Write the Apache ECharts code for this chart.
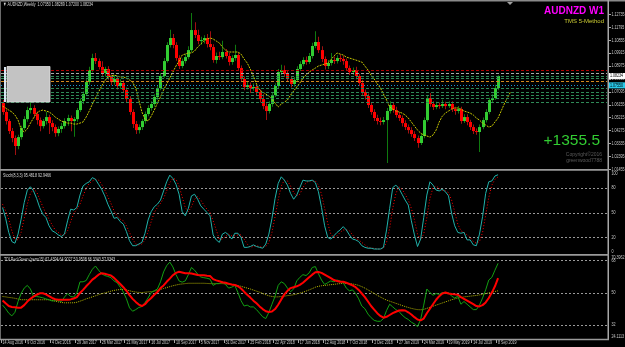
<!DOCTYPE html>
<html><head><meta charset="utf-8">
<script src="https://cdn.jsdelivr.net/npm/echarts@6/dist/echarts.min.js"></script>
<style>html,body{margin:0;padding:0;background:#000;}#c{width:625px;height:347px;}</style>
</head><body><div id="c"></div>
<script>
// ---------- DATA ----------
const dateTicks = ['14 Aug 2016','9 Oct 2016','4 Dec 2016','29 Jan 2017','26 Mar 2017','21 May 2017','16 Jul 2017','10 Sep 2017','5 Nov 2017','31 Dec 2017','25 Feb 2018','22 Apr 2018','17 Jun 2018','12 Aug 2018','7 Oct 2018','2 Dec 2018','27 Jan 2019','24 Mar 2019','19 May 2019','14 Jul 2019','8 Sep 2019'];
const priceTicks = [1.01455,1.02395,1.03335,1.04275,1.05215,1.06155,1.07095,1.08035,1.08975,1.09915,1.10855,1.11795,1.12735];
const stochLevels = [80,50,20];
const stochEdges = [100,0];
const tdiLevels = [68,50,32];
const tdiEdgeLabels = [70.3962,24.1113];
const lastPrice = 1.08234;

const opens = [1.0626,1.0561,1.0495,1.0422,1.0371,1.0313,1.0378,1.0444,1.0509,1.0575,
1.0590,1.0546,1.0502,1.0458,1.0495,1.0524,1.0480,1.0451,1.0407,1.0437,
1.0458,1.0495,1.0517,1.0495,1.0509,1.0575,1.0641,1.0692,1.0779,1.0867,
1.0954,1.0932,1.0889,1.0845,1.0874,1.0816,1.0779,1.0801,1.0750,1.0772,
1.0721,1.0655,1.0561,1.0473,1.0429,1.0451,1.0495,1.0546,1.0590,1.0619,
1.0670,1.0735,1.0823,1.0932,1.1049,1.1100,1.1049,1.0954,1.0896,1.0932,
1.0961,1.1012,1.1158,1.1122,1.1078,1.1085,1.1100,1.1056,1.1034,1.0940,
1.0969,1.0961,1.0998,1.0969,1.0925,1.0954,1.0976,1.0881,1.0801,1.0743,
1.0757,1.0735,1.0743,1.0706,1.0655,1.0604,1.0568,1.0619,1.0684,1.0750,
1.0852,1.0867,1.0838,1.0801,1.0765,1.0794,1.0874,1.0910,1.0940,1.0925,
1.0969,1.1042,1.1071,1.1012,1.0947,1.0896,1.0918,1.0940,1.0932,1.0954,
1.0947,1.0932,1.0881,1.0852,1.0867,1.0823,1.0772,1.0706,1.0677,1.0612,
1.0561,1.0517,1.0495,1.0488,1.0502,1.0568,1.0612,1.0575,1.0539,1.0517,
1.0480,1.0451,1.0429,1.0400,1.0371,1.0335,1.0386,1.0502,1.0663,1.0619,
1.0597,1.0612,1.0604,1.0619,1.0604,1.0619,1.0582,1.0568,1.0582,1.0495,
1.0524,1.0488,1.0451,1.0422,1.0415,1.0451,1.0502,1.0561,1.0648,1.0663,
1.0735];
const closes = [1.0561,1.0495,1.0422,1.0371,1.0313,1.0378,1.0444,1.0509,1.0575,1.0590,
1.0546,1.0502,1.0458,1.0495,1.0524,1.0480,1.0451,1.0407,1.0437,1.0458,
1.0495,1.0517,1.0495,1.0509,1.0575,1.0641,1.0692,1.0779,1.0867,1.0954,
1.0932,1.0889,1.0845,1.0874,1.0816,1.0779,1.0801,1.0750,1.0772,1.0721,
1.0655,1.0561,1.0473,1.0429,1.0451,1.0495,1.0546,1.0590,1.0619,1.0670,
1.0735,1.0823,1.0932,1.1049,1.1100,1.1049,1.0954,1.0896,1.0932,1.0961,
1.1012,1.1158,1.1122,1.1078,1.1085,1.1100,1.1056,1.1034,1.0940,1.0969,
1.0961,1.0998,1.0969,1.0925,1.0954,1.0976,1.0881,1.0801,1.0743,1.0757,
1.0735,1.0743,1.0706,1.0655,1.0604,1.0568,1.0619,1.0684,1.0750,1.0852,
1.0867,1.0838,1.0801,1.0765,1.0794,1.0874,1.0910,1.0940,1.0925,1.0969,
1.1042,1.1071,1.1012,1.0947,1.0896,1.0918,1.0940,1.0932,1.0954,1.0947,
1.0932,1.0881,1.0852,1.0867,1.0823,1.0772,1.0706,1.0677,1.0612,1.0561,
1.0517,1.0495,1.0488,1.0502,1.0568,1.0612,1.0575,1.0539,1.0517,1.0480,
1.0451,1.0429,1.0400,1.0371,1.0335,1.0386,1.0502,1.0663,1.0619,1.0597,
1.0612,1.0604,1.0619,1.0604,1.0619,1.0582,1.0568,1.0582,1.0495,1.0524,
1.0488,1.0451,1.0422,1.0415,1.0451,1.0502,1.0561,1.0648,1.0663,1.0735,
1.0823];
const highs = [1.0648,1.0580,1.0510,1.0445,1.0390,1.0395,1.0460,1.0530,1.0600,1.0640,
1.0610,1.0565,1.0520,1.0510,1.0560,1.0540,1.0500,1.0470,1.0455,1.0480,
1.0515,1.0540,1.0535,1.0525,1.0590,1.0660,1.0710,1.0800,1.0890,1.0985,
1.0990,1.0950,1.0930,1.0890,1.0895,1.0835,1.0830,1.0820,1.0800,1.0790,
1.0740,1.0675,1.0580,1.0495,1.0470,1.0510,1.0565,1.0610,1.0640,1.0690,
1.0755,1.0845,1.0955,1.1070,1.1160,1.1130,1.1070,1.0975,1.0950,1.0985,
1.1040,1.1282,1.1215,1.1160,1.1110,1.1120,1.1130,1.1150,1.1055,1.0995,
1.1000,1.1080,1.1020,1.0990,1.0975,1.1050,1.0995,1.0900,1.0820,1.0780,
1.0775,1.0770,1.0760,1.0725,1.0690,1.0625,1.0640,1.0705,1.0770,1.0875,
1.0905,1.0900,1.0860,1.0820,1.0815,1.0895,1.0930,1.0960,1.0965,1.0990,
1.1065,1.1150,1.1110,1.1040,1.0965,1.0940,1.0990,1.0965,1.0975,1.0980,
1.0970,1.0950,1.0900,1.0885,1.0890,1.0840,1.0795,1.0725,1.0695,1.0630,
1.0580,1.0540,1.0520,1.0525,1.0590,1.0640,1.0630,1.0600,1.0560,1.0535,
1.0500,1.0470,1.0450,1.0420,1.0390,1.0405,1.0520,1.0685,1.0700,1.0640,
1.0635,1.0630,1.0650,1.0635,1.0640,1.0640,1.0600,1.0605,1.0600,1.0545,
1.0545,1.0505,1.0470,1.0440,1.0470,1.0520,1.0580,1.0665,1.0690,1.0760,
1.0829];
const lows = [1.0540,1.0470,1.0400,1.0340,1.0247,1.0290,1.0360,1.0430,1.0490,1.0550,
1.0520,1.0470,1.0420,1.0440,1.0470,1.0400,1.0420,1.0380,1.0385,1.0410,
1.0440,1.0460,1.0420,1.0380,1.0490,1.0560,1.0620,1.0680,1.0760,1.0850,
1.0910,1.0870,1.0825,1.0820,1.0795,1.0755,1.0760,1.0725,1.0730,1.0700,
1.0630,1.0540,1.0445,1.0400,1.0405,1.0430,1.0475,1.0530,1.0570,1.0600,
1.0650,1.0720,1.0810,1.0920,1.1030,1.1025,1.0935,1.0875,1.0880,1.0915,
1.0945,1.0995,1.1100,1.1055,1.1050,1.1060,1.1030,1.1010,1.0920,1.0915,
1.0940,1.0945,1.0950,1.0900,1.0905,1.0935,1.0860,1.0780,1.0720,1.0725,
1.0700,1.0715,1.0685,1.0630,1.0580,1.0502,1.0550,1.0600,1.0670,1.0735,
1.0830,1.0815,1.0780,1.0740,1.0745,1.0780,1.0860,1.0895,1.0905,1.0910,
1.0950,1.1025,1.0990,1.0925,1.0870,1.0875,1.0900,1.0910,1.0915,1.0925,
1.0905,1.0860,1.0830,1.0830,1.0800,1.0750,1.0685,1.0650,1.0590,1.0540,
1.0495,1.0470,1.0465,1.0470,1.0189,1.0550,1.0555,1.0520,1.0495,1.0455,
1.0430,1.0405,1.0380,1.0350,1.0300,1.0320,1.0370,1.0490,1.0600,1.0575,
1.0580,1.0585,1.0590,1.0580,1.0590,1.0560,1.0540,1.0550,1.0475,1.0480,
1.0465,1.0430,1.0400,1.0395,1.0269,1.0435,1.0485,1.0545,1.0630,1.0650,
1.0720];
const maLine = [1.0604,1.0590,1.0575,1.0561,1.0539,1.0502,1.0437,1.0415,1.0437,1.0480,
1.0517,1.0553,1.0568,1.0575,1.0568,1.0561,1.0546,1.0524,1.0509,1.0495,
1.0488,1.0480,1.0480,1.0473,1.0473,1.0480,1.0488,1.0524,1.0568,1.0619,
1.0663,1.0706,1.0750,1.0787,1.0816,1.0823,1.0830,1.0823,1.0816,1.0816,
1.0808,1.0794,1.0779,1.0735,1.0648,1.0561,1.0509,1.0495,1.0531,1.0575,
1.0626,1.0670,1.0721,1.0765,1.0808,1.0852,1.0896,1.0932,1.0976,1.0983,
1.0991,1.0991,1.1005,1.1034,1.1056,1.1078,1.1093,1.1100,1.1093,1.1078,
1.1064,1.1034,1.1012,1.0998,1.0998,1.0998,1.0998,1.0983,1.0947,1.0918,
1.0874,1.0823,1.0765,1.0721,1.0706,1.0692,1.0677,1.0655,1.0626,1.0597,
1.0619,1.0633,1.0648,1.0684,1.0714,1.0743,1.0772,1.0808,1.0830,1.0852,
1.0867,1.0881,1.0896,1.0903,1.0910,1.0918,1.0940,1.0969,1.0991,1.0983,
1.0976,1.0961,1.0954,1.0947,1.0940,1.0932,1.0925,1.0896,1.0867,1.0830,
1.0801,1.0765,1.0736,1.0692,1.0648,1.0597,1.0582,1.0568,1.0561,1.0553,
1.0539,1.0517,1.0488,1.0458,1.0429,1.0407,1.0393,1.0386,1.0378,1.0393,
1.0429,1.0488,1.0531,1.0553,1.0568,1.0582,1.0590,1.0590,1.0582,1.0568,
1.0561,1.0553,1.0539,1.0517,1.0502,1.0480,1.0466,1.0451,1.0458,1.0488,
1.0517,1.0568,1.0619,1.0663,1.0706];
const levelPrices = [1.0867,1.0843,1.0823,1.0805,1.0787,1.0755,1.0734,1.0709,1.0685,1.0663,1.0637];
const levelColors = ['#B00000','#A8A8A8','#2E8B57','#2E8B57','#D2881E','#1E90C8','#2E8B57','#2E8B57','#2E8B57','#2E8B57','#2E8B57'];

const stochMain = [56,43,26,15,13,24,42,62,77,81,
76,67,56,48,44,34,28,26,23,21,
24,40,54,53,56,71,82,85,87,92,
90,84,78,70,60,52,43,44,39,36,
27,16,10,10,12,14,25,41,51,57,
60,65,76,87,95,91,84,72,51,46,
55,70,72,66,58,54,50,46,23,17,
14,24,26,23,18,25,25,20,8,8,
9,11,9,8,7,12,24,43,67,85,
93,89,83,73,66,71,80,89,88,88,
89,86,75,56,34,20,18,22,26,29,
33,29,23,18,17,15,10,8,7,7,
6,6,6,8,29,55,80,83,79,72,
65,59,40,23,9,18,44,71,87,83,
77,76,78,75,70,49,34,26,25,26,
17,17,11,10,24,45,73,87,88,94,
95.5];
const stochSignal = [60,52,42,28,18,17,26,43,60,73,
78,75,66,57,49,42,35,29,26,23,
23,28,39,49,54,60,70,79,85,88,
90,89,84,77,69,61,52,46,42,40,
34,26,18,12,11,12,17,27,39,50,
56,61,67,76,86,91,90,82,69,56,
51,57,66,69,65,59,54,50,40,29,
18,18,21,24,22,22,23,23,18,12,
8,9,10,9,8,9,14,26,45,65,
82,89,88,82,74,70,72,80,86,88,
88,88,83,72,55,37,24,20,22,26,
29,29,28,23,19,17,14,11,8,7,
7,6,6,7,14,31,55,73,81,78,
72,65,55,41,24,17,24,44,67,80,
82,79,77,76,74,65,51,36,28,26,
23,20,15,13,15,26,47,68,83,90,
92.9];
const tdiGreen = [43,41,38.5,37,39,45,49.5,52.5,54,52,
47.8,47.8,47.5,47.1,46.5,46,45.3,45.5,45.5,45,
47.5,49.5,47.8,47.5,49.8,56,56,56.7,60,63,
64.8,62.5,60.5,59.5,59,58.3,56.5,55.5,53,50.3,
46.5,41.5,39.6,40.5,41.7,42.2,44.5,47,50,51,
52,56,61.5,65,67,64.3,60,56.5,55.8,56.5,
60,64,62.5,60.3,58.7,58.3,58,57.5,54,55,
55,56,54.5,52.5,53,54,50,45.5,42.5,43,
42,42,40.5,38.5,36.5,35.5,39,43.5,48,54,
56,55,52.5,50.5,52,56.5,58.5,60,59.5,61,
64,64.5,60.5,57,54.5,55.5,56.5,56,57,56.5,
55.5,52.5,51,51.5,49.5,46.5,42.5,41,38,36,
34.5,34,34,35.5,40,43.5,42,40.5,39.5,37.5,
36,35,33.5,32.5,31,35,43,52,50,48.5,
49.5,49,50,49.5,50,48,47,48,43.5,45,
43.5,42,40.5,40.5,43,47,51.5,57,58.5,62.5,
66.3];
const tdiRed = [45.6,44,42.5,42,41.8,41.6,41.6,43,45,46.5,
47.8,48.8,49.6,49.6,49,48,47,46.3,46,46,
46,46,46.2,46.7,47.5,49.8,51.5,53.5,55.3,57.2,
58.5,60,60.8,60.5,60,59.5,58.2,56.5,54.8,53,
51,48.6,46.5,44.8,43.3,42.5,43.5,45.5,47,48.8,
50.3,52.5,54,56,57.8,59.7,61,61.6,61.2,60.8,
60.8,60.6,60.2,59.8,59.7,59.7,59.4,59.2,57.5,56.8,
56.3,55.8,55.5,55,54.5,54.2,53.5,52.3,50.5,48.8,
47.2,45.5,44,42.3,40.8,39.6,39.2,39.4,40.8,43.2,
46.2,49,51,52.5,53,53.5,54.3,55.5,57,58.5,
60,61.3,61.5,61,60,59,58,57,56.5,56,
56,55.5,54.8,54,53,51.5,49.5,47.5,45,42.5,
40.5,38.5,37,36,36.5,37.5,38.5,39.3,40,40.2,
40,39,37.8,36.3,35,34.5,35.5,38.5,41,43.5,
46,48,49.5,50,49.5,49.2,49,48.8,47.5,46.5,
45.5,44.5,43.5,42.5,42.3,43,44.5,47,50,53.5,
58];
const tdiYellow = [47.8,47.6,47.3,47.1,46.8,46.4,46,46,46,46,
46,46,46,46,46,46,45.7,45.2,44.8,44.5,
44.3,44.3,44.3,44.3,44.6,45.2,45.8,46.5,47,47.6,
48.2,48.8,49.4,49.8,50.3,50.8,51.2,51.5,51.7,51.8,
51.5,51,50.6,50.3,50.1,50,50.2,50.4,50.5,50.8,
51.3,51.8,52.3,52.8,53.3,53.8,54.2,54.6,54.8,55,
55.2,55.2,55.2,55.2,55.2,55.2,55.1,55,55,55,
55,55,54.8,54.6,54.4,54.2,53.9,53.5,53,52.5,
52,51.4,50.8,50.2,49.5,48.8,48.2,47.8,47.6,47.6,
47.8,48,48.3,48.5,48.8,49.2,49.7,50.2,50.8,51.5,
52.2,53,53.5,53.8,54,54.2,54.4,54.6,54.8,55,
55.1,55.1,55,54.8,54.5,54,53.3,52.5,51.5,50.5,
49.5,48.5,47.5,46.6,45.8,45.2,44.6,44,43.4,42.8,
42.2,41.7,41.2,40.8,40.5,40.4,40.6,41.2,41.8,42.4,
43,43.6,44.2,44.8,45.4,46,46.5,47,47.3,47.6,
47.8,48,48.2,48.4,48.7,49,49.4,49.8,50.2,50.6,
51];

const mainTitle = '\u25BC AUDNZD,Weekly  1.07350 1.08289 1.07200 1.08234';
const stochTitle = 'Stoch(8,3,3) 95.4818 92.9466';
const tdiTitle = 'TDI Red Green (perm15) 62.4394 64.9027 50.9508 66.3343 57.9343';
const bigTitle = 'AUDNZD W1';
const subTitle = 'TMS 5-Method';
const pipsText = '+1355.5';
const copyText = ['Copyright\u00A92016', 'greenwood7788'];

// ---------- CHART ----------
const SLOTS = 196;
const cats = [];
for (let i = 0; i < SLOTS; i++) cats.push(i);
const FONT = 'Liberation Sans, Arial, sans-serif';
const LBL = '#C8C8C8';
const SX = 0.66;

const chart = echarts.init(document.getElementById('c'), null, {renderer: 'canvas'});

function xa(idx) {
  return {type: 'category', gridIndex: idx, data: cats, boundaryGap: true,
    axisLine: {show: false}, axisTick: {show: false}, splitLine: {show: false}, axisLabel: {show: false}};
}
function ya(idx, min, max) {
  return {type: 'value', gridIndex: idx, min: min, max: max, position: 'right',
    axisLine: {show: false}, axisTick: {show: false}, splitLine: {show: false}, axisLabel: {show: false}};
}
const candleData = closes.map((c, i) => [i, opens[i], c, lows[i], highs[i]]);

const option = {
  backgroundColor: '#000000',
  animation: false,
  grid: [
    {left: 1, right: 17, top: 2, height: 167},
    {left: 1, right: 17, top: 171, height: 83},
    {left: 1, right: 17, top: 256, height: 83}
  ],
  xAxis: [xa(0), xa(1), xa(2)],
  yAxis: [ya(0, 1.01455, 1.13624), ya(1, 0, 100), ya(2, tdiEdgeLabels[1], tdiEdgeLabels[0])],
  series: [
    {
      type: 'custom', xAxisIndex: 0, yAxisIndex: 0, data: candleData, z: 2, silent: true,
      encode: {x: 0, y: [1, 2, 3, 4]},
      renderItem: function (params, api) {
        const i = api.value(0), o = api.value(1), c = api.value(2), l = api.value(3), h = api.value(4);
        const po = api.coord([i, o]), pc = api.coord([i, c]), pl = api.coord([i, l]), ph = api.coord([i, h]);
        const up = c >= o;
        const cx = Math.round(po[0]);
        const top = Math.min(po[1], pc[1]);
        const hh = Math.max(1, Math.abs(po[1] - pc[1]));
        return {type: 'group', children: [
          {type: 'rect', shape: {x: cx, y: ph[1], width: 1, height: pl[1] - ph[1]}, style: {fill: up ? '#0F7A0F' : '#A01010'}},
          {type: 'rect', shape: {x: cx - 1, y: top, width: 3, height: hh}, style: {fill: up ? '#32CD32' : '#FF0000'}}
        ]};
      }
    },
    {type: 'line', xAxisIndex: 0, yAxisIndex: 0, data: maLine, z: 3, silent: true,
      showSymbol: false, lineStyle: {color: '#C8C800', width: 1, type: [2, 1]}},
    {type: 'line', xAxisIndex: 1, yAxisIndex: 1, data: stochSignal, z: 2, silent: true,
      showSymbol: false, lineStyle: {color: '#FF0000', width: 1, type: [1, 2]}},
    {type: 'line', xAxisIndex: 1, yAxisIndex: 1, data: stochMain, z: 3, silent: true,
      showSymbol: false, lineStyle: {color: '#20B2AA', width: 1}},
    {type: 'line', xAxisIndex: 2, yAxisIndex: 2, data: tdiYellow, z: 2, silent: true,
      showSymbol: false, lineStyle: {color: '#B8B800', width: 1, type: [1, 1]}},
    {type: 'line', xAxisIndex: 2, yAxisIndex: 2, data: tdiGreen, z: 3, silent: true,
      showSymbol: false, lineStyle: {color: '#12A012', width: 1}},
    {type: 'line', xAxisIndex: 2, yAxisIndex: 2, data: tdiRed, z: 4, silent: true,
      showSymbol: false, lineStyle: {color: '#FF0000', width: 2}}
  ]
};
chart.setOption(option);

// ---------- overlays placed through the chart's own scales ----------
const yPx = (ax, v) => chart.convertToPixel({yAxisIndex: ax}, v);
const xPx = i => chart.convertToPixel({xAxisIndex: 2}, i);
function txt(x, y, s, color, extra) {
  return Object.assign({type: 'text', x: x, y: y, scaleX: SX, z: 12,
    style: {text: s, fill: color, font: '5.5px ' + FONT, textVerticalAlign: 'middle', verticalAlign: 'middle'}}, extra || {});
}
function hline(y, color, dash, z) {
  const yy = Math.round(y) + 0.5;
  return {type: 'line', z: z, silent: true, shape: {x1: 1, y1: yy, x2: 607, y2: yy},
    style: {stroke: color, lineWidth: 1, lineDash: dash}};
}
const G = [];
// level objects drawn over the bars (MetaTrader default)
levelPrices.forEach((p, k) => G.push(hline(yPx(0, p), levelColors[k], k === 5 ? [1, 2] : [3, 2], 5)));
stochLevels.forEach(v => G.push(hline(yPx(1, v), '#9A9A9A', [2, 2], 1)));
tdiLevels.forEach(v => G.push(hline(yPx(2, v), '#9A9A9A', [2, 2], 1)));
// frame
G.push({type: 'rect', z: 10, shape: {x: 0, y: 0, width: 625, height: 1.5}, style: {fill: '#8A8A8A'}});
G.push({type: 'rect', z: 10, shape: {x: 0, y: 0, width: 1, height: 340}, style: {fill: '#6A6A6A'}});
G.push({type: 'rect', z: 10, shape: {x: 607.5, y: 0, width: 1.5, height: 340}, style: {fill: '#A8A8A8'}});
G.push({type: 'rect', z: 10, shape: {x: 0, y: 169, width: 609, height: 1.8}, style: {fill: '#9A9A9A'}});
G.push({type: 'rect', z: 10, shape: {x: 0, y: 254, width: 609, height: 1.8}, style: {fill: '#9A9A9A'}});
G.push({type: 'rect', z: 10, shape: {x: 0, y: 338.8, width: 609, height: 1.5}, style: {fill: '#9A9A9A'}});
G.push({type: 'polygon', z: 10, shape: {points: [[507, 2], [513, 2], [510, 5]]}, style: {fill: '#A0A0A0'}});
G.push({type: 'rect', z: 10, shape: {x: 4, y: 67, width: 2, height: 35}, style: {fill: '#D8E4F0'}});
G.push({type: 'rect', z: 10, shape: {x: 7, y: 66.5, width: 43, height: 35.5}, style: {fill: '#C3C3C3', stroke: '#E0E0E0', lineWidth: 0.8}});
// right price scale
priceTicks.forEach(p => {
  const y = yPx(0, p);
  G.push({type: 'rect', z: 11, shape: {x: 609, y: Math.round(y), width: 2, height: 1}, style: {fill: '#A8A8A8'}});
  G.push(txt(611.5, y, p.toFixed(5), LBL));
});
(function () {
  const yc = yPx(0, levelPrices[5]);
  G.push({type: 'rect', z: 13, shape: {x: 609, y: yc - 3, width: 16, height: 6}, style: {fill: '#28C8E8'}});
  G.push(txt(610, yc, levelPrices[5].toFixed(5), '#000', {z: 14}));
  const yl = yPx(0, lastPrice);
  G.push({type: 'rect', z: 13, shape: {x: 609, y: yl - 3, width: 16, height: 6}, style: {fill: '#FFFFFF'}});
  G.push(txt(610, yl, lastPrice.toFixed(5), '#000', {z: 14}));
})();
// stoch scale
stochLevels.forEach(v => G.push(txt(611.5, yPx(1, v), String(v), LBL)));
G.push(txt(611.5, yPx(1, stochEdges[0]) + 2.5, String(stochEdges[0]), LBL));
G.push(txt(611.5, yPx(1, stochEdges[1]) - 2.5, String(stochEdges[1]), LBL));
// TDI scale
tdiLevels.forEach(v => G.push(txt(611.5, yPx(2, v), String(v), LBL)));
G.push(txt(611.5, yPx(2, tdiEdgeLabels[0]) + 1.5, tdiEdgeLabels[0].toFixed(4), LBL));
G.push(txt(611.5, yPx(2, tdiEdgeLabels[1]) - 2.5, tdiEdgeLabels[1].toFixed(4), LBL));
// date scale
dateTicks.forEach((d, k) => {
  const x = xPx(k * 8);
  G.push({type: 'rect', z: 11, shape: {x: Math.round(x) - 2, y: 340, width: 1, height: 3}, style: {fill: '#A8A8A8'}});
  G.push(txt(x, 342.5, d, LBL));
});
// titles & texts
G.push(txt(3, 4.5, mainTitle, '#D8D8D8'));
G.push(txt(3, 175.5, stochTitle, '#D8D8D8'));
G.push(txt(4, 259.5, tdiTitle, '#D8D8D8'));
G.push({type: 'text', x: 604, y: 6, z: 12, style: {text: bigTitle, fill: '#FF00FF', font: 'bold 10px ' + FONT, textAlign: 'right'}});
G.push({type: 'text', x: 604, y: 18, z: 12, style: {text: subTitle, fill: '#CCCC33', font: '6px ' + FONT, textAlign: 'right'}});
G.push({type: 'text', x: 600, y: 133, z: 12, style: {text: pipsText, fill: '#32CD32', font: '15.5px ' + FONT, textAlign: 'right'}});
G.push({type: 'text', x: 602, y: 152, z: 12, style: {text: copyText[0], fill: '#5A5A5A', font: '5px ' + FONT, textAlign: 'right'}});
G.push({type: 'text', x: 602, y: 158, z: 12, style: {text: copyText[1], fill: '#5A5A5A', font: '5px ' + FONT, textAlign: 'right'}});

chart.setOption({graphic: G});
</script></body></html>
